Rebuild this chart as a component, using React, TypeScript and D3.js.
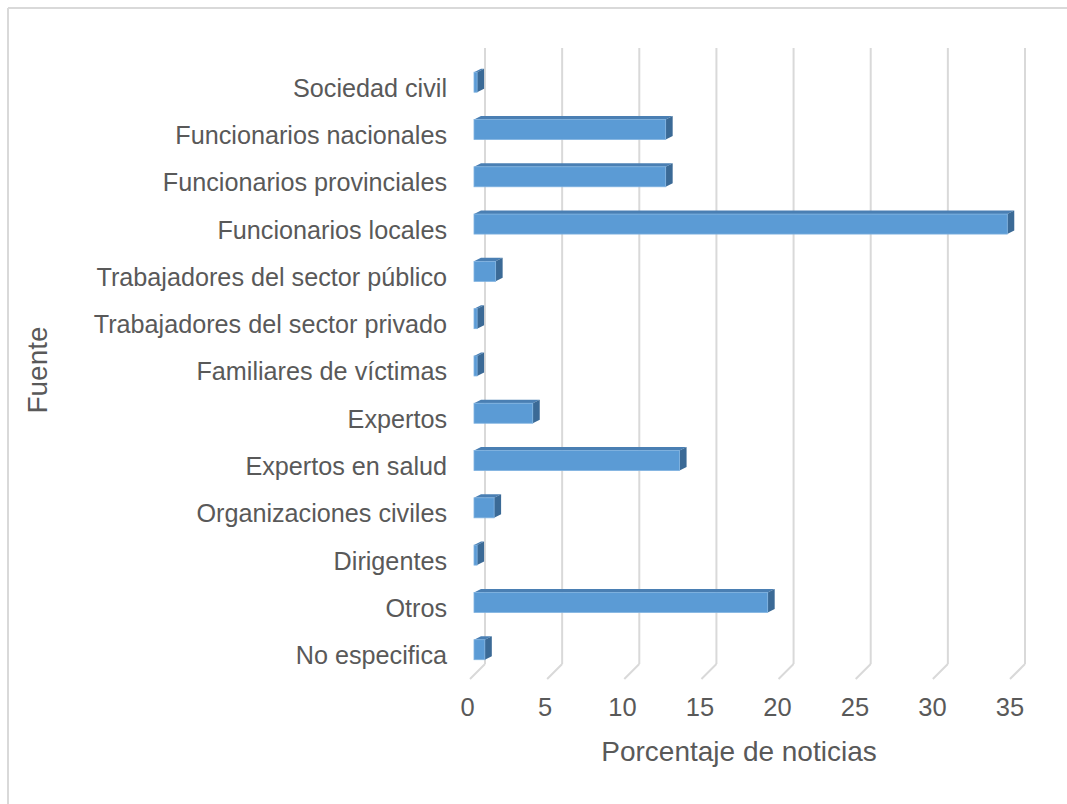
import React from "react";
import * as d3 from "d3";

const categories = [
  "Sociedad civil",
  "Funcionarios nacionales",
  "Funcionarios provinciales",
  "Funcionarios locales",
  "Trabajadores del sector público",
  "Trabajadores del sector privado",
  "Familiares de víctimas",
  "Expertos",
  "Expertos en salud",
  "Organizaciones civiles",
  "Dirigentes",
  "Otros",
  "No especifica",
];
const values = [0.2, 12.4, 12.4, 34.5, 1.4, 0.2, 0.2, 3.8, 13.3, 1.3, 0.2, 19.0, 0.7];
const ticks = [0, 5, 10, 15, 20, 25, 30, 35];
const xTitle = "Porcentaje de noticias";
const yTitle = "Fuente";

const W = 1067;
const H = 804;
const FONT = "'Liberation Sans', Arial, sans-serif";
const TEXT = "#595959";
const GRID = "#d9d9d9";

export default function App() {
  const xBar = d3.scaleLinear().domain([0, 35]).range([474, 1015]);
  const xBack = d3.scaleLinear().domain([0, 35]).range([485, 1025]);
  const xLab = d3.scaleLinear().domain([0, 35]).range([467.5, 1010]);
  const y = d3.scalePoint<string>().domain(categories).range([82.2, 649.7]);

  const floorBackY = 664;
  const floorFrontY = 679;
  const depthX = 15;
  const half = 10;
  const dx = 7;
  const dy = -3.5;

  return (
    <svg
      width={W}
      height={H}
      style={{ position: "absolute", left: 0, top: 0, background: "#fff" }}
    >
      <rect x={0} y={0} width={W} height={H} fill="#fff" />
      <line x1={8} y1={8} x2={W} y2={8} stroke={GRID} strokeWidth={2} />
      <line x1={8} y1={8} x2={8} y2={H} stroke={GRID} strokeWidth={2} />

      {ticks.map((t) => (
        <g key={t}>
          <line x1={xBack(t)} y1={48} x2={xBack(t)} y2={floorBackY} stroke={GRID} strokeWidth={2} />
          <line
            x1={xBack(t)}
            y1={floorBackY}
            x2={xBack(t) - depthX}
            y2={floorFrontY}
            stroke={GRID}
            strokeWidth={2}
          />
          <text
            x={xLab(t)}
            y={707}
            textAnchor="middle"
            dominantBaseline="central"
            fontFamily={FONT}
            fontSize={25.5}
            fill={TEXT}
          >
            {t}
          </text>
        </g>
      ))}

      {categories.map((c, i) => {
        const cy = y(c) as number;
        const x0 = xBar(0);
        const x1 = xBar(values[i]);
        const top = cy - half;
        const bot = cy + half;
        return (
          <g key={c}>
            <polygon
              points={`${x0},${top} ${x0 + dx},${top + dy} ${x1 + dx},${top + dy} ${x1},${top}`}
              fill="#4a7fb3"
            />
            <polygon
              points={`${x1},${top} ${x1 + dx},${top + dy} ${x1 + dx},${bot + dy} ${x1},${bot}`}
              fill="#3b6a96"
            />
            <rect x={x0} y={top} width={x1 - x0} height={bot - top} fill="#5b9bd5" stroke="#7fb2e0" strokeWidth={0.8} />
            <text
              x={447}
              y={cy + 5.5}
              textAnchor="end"
              dominantBaseline="central"
              fontFamily={FONT}
              fontSize={25.2}
              fill={TEXT}
            >
              {c}
            </text>
          </g>
        );
      })}

      <text
        x={739}
        y={751}
        textAnchor="middle"
        dominantBaseline="central"
        fontFamily={FONT}
        fontSize={28}
        fill={TEXT}
      >
        {xTitle}
      </text>
      <text
        transform={`translate(37,370) rotate(-90)`}
        textAnchor="middle"
        dominantBaseline="central"
        fontFamily={FONT}
        fontSize={28}
        fill={TEXT}
      >
        {yTitle}
      </text>
    </svg>
  );
}
